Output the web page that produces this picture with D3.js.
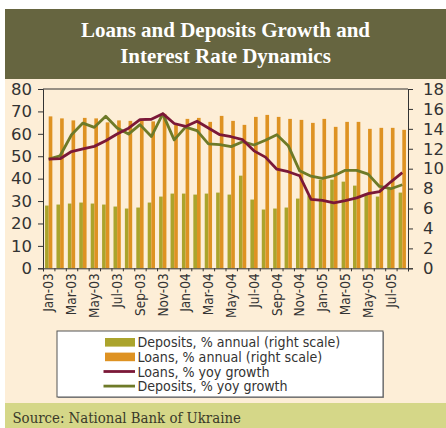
<!DOCTYPE html>
<html>
<head>
<meta charset="utf-8">
<script src="https://cdn.jsdelivr.net/npm/d3@7"></script>
<style>
  body { margin: 0; background: #fff; }
  svg { display: block; }
</style>
</head>
<body>
<div id="chart"></div>
<script>
// months on the x axis
var months = ["Jan-03","Feb-03","Mar-03","Apr-03","May-03","Jun-03","Jul-03","Aug-03","Sep-03","Oct-03","Nov-03","Dec-03",
              "Jan-04","Feb-04","Mar-04","Apr-04","May-04","Jun-04","Jul-04","Aug-04","Sep-04","Oct-04","Nov-04","Dec-04",
              "Jan-05","Feb-05","Mar-05","Apr-05","May-05","Jun-05","Jul-05","Aug-05"];

// bars, right scale
var depositsAnnual = [6.3, 6.4, 6.5, 6.6, 6.5, 6.4, 6.2, 6.0, 6.1, 6.6, 7.2, 7.5,
                      7.5, 7.4, 7.5, 7.6, 7.4, 9.3, 6.9, 5.9, 6.0, 6.1, 7.0, 7.3,
                      8.9, 8.9, 8.7, 8.3, 7.4, 7.2, 8.0, 7.6];
var loansAnnual = [15.25, 15.05, 14.85, 15.1, 15.05, 14.65, 14.85, 14.8, 14.8, 14.75, 15.5, 14.4,
                   15.0, 15.1, 14.7, 15.3, 14.8, 14.4, 15.2, 15.4, 15.2, 15.0, 14.9, 14.6,
                   15.0, 14.2, 14.7, 14.7, 14.0, 14.1, 14.1, 13.9];

// lines, left scale
var loansYoy = [48.7, 48.9, 52.1, 53.3, 54.4, 56.9, 59.9, 62.5, 66.3, 66.5, 69.0, 64.6,
                63.3, 65.6, 62.6, 59.6, 58.7, 57.4, 52.4, 49.6, 44.2, 43.1, 41.3, 30.8,
                30.3, 29.2, 30.2, 31.4, 33.3, 34.2, 38.6, 42.7];
var depositsYoy = [48.7, 50.2, 59.6, 64.8, 62.9, 67.8, 62.6, 59.9, 64.1, 58.8, 68.9, 57.3,
                   63.0, 61.4, 55.5, 55.2, 54.3, 56.5, 55.0, 57.1, 59.6, 54.7, 43.5, 41.1,
                   40.1, 41.3, 43.7, 43.7, 42.0, 36.5, 35.5, 37.3];

var leftTicks = [0, 10, 20, 30, 40, 50, 60, 70, 80];
var rightTicks = [0, 2, 4, 6, 8, 10, 12, 14, 16, 18];

var title = ["Loans and Deposits Growth and", "Interest Rate Dynamics"];
var source = "Source: National Bank of Ukraine";
var legendItems = [
  {label: "Deposits, % annual (right scale)", type: "bar", color: "#ABA42C"},
  {label: "Loans, % annual (right scale)", type: "bar", color: "#DE9222"},
  {label: "Loans, % yoy growth", type: "line", color: "#7B1838"},
  {label: "Deposits, % yoy growth", type: "line", color: "#6E7A28"}
];

var W = 446, H = 428;
var svg = d3.select("#chart").append("svg")
    .attr("width", W)
    .attr("height", H);

// panels
svg.append("rect").attr("x", 5).attr("y", 9).attr("width", W - 5).attr("height", 70).attr("fill", "#666540");
svg.append("rect").attr("x", 5).attr("y", 79).attr("width", W - 5).attr("height", 324).attr("fill", "#FDEED7");
svg.append("rect").attr("x", 5).attr("y", 403).attr("width", W - 5).attr("height", 25).attr("fill", "#D5D788");

svg.selectAll("text.title")
  .data(title)
  .enter().append("text")
  .attr("class", "title")
  .attr("x", 225.5)
  .attr("y", function(d, i) { return 36.5 + i * 26.7; })
  .attr("text-anchor", "middle")
  .attr("fill", "#FFFFFF")
  .style("font-family", "'Liberation Serif', serif")
  .style("font-weight", "bold")
  .style("font-size", "21px")
  .text(function(d) { return d; });

svg.append("text")
  .attr("x", 12.5)
  .attr("y", 423)
  .attr("fill", "#3a3a2a")
  .style("font-family", "'DejaVu Serif Condensed', 'DejaVu Serif', serif")
  .style("font-size", "14.8px")
  .text(source);

// plot area
var plotL = 43, plotR = 408, plotT = 89, plotB = 268.3;

var x = d3.scaleBand()
    .domain(months)
    .range([plotL, plotR])
    .paddingInner(0.36)
    .paddingOuter(0.18);

var xSub = d3.scaleBand()
    .domain(["dep", "loan"])
    .range([0, x.bandwidth()]);

var xIdx = d3.scaleLinear().domain([0, months.length]).range([plotL, plotR]);

var yL = d3.scaleLinear().domain([0, 80]).range([plotB, plotT]);
var yR = d3.scaleLinear().domain([0, 18]).range([plotB, plotT]);

// bars
var g = svg.append("g");
g.selectAll("rect.dep")
  .data(depositsAnnual)
  .enter().append("rect")
  .attr("class", "dep")
  .attr("x", function(d, i) { return x(months[i]) + xSub("dep"); })
  .attr("width", xSub.bandwidth())
  .attr("y", function(d) { return yR(d); })
  .attr("height", function(d) { return plotB - yR(d); })
  .attr("fill", legendItems[0].color);

g.selectAll("rect.loan")
  .data(loansAnnual)
  .enter().append("rect")
  .attr("class", "loan")
  .attr("x", function(d, i) { return x(months[i]) + xSub("loan"); })
  .attr("width", xSub.bandwidth())
  .attr("y", function(d) { return yR(d); })
  .attr("height", function(d) { return plotB - yR(d); })
  .attr("fill", legendItems[1].color);

// lines
var line = d3.line()
    .x(function(d, i) { return x(months[i]) + x.bandwidth() / 2; })
    .y(function(d) { return yL(d); });

svg.append("path")
  .datum(depositsYoy)
  .attr("d", line)
  .attr("fill", "none")
  .attr("stroke", legendItems[3].color)
  .attr("stroke-width", 2.8)
  .attr("stroke-linejoin", "round");

svg.append("path")
  .datum(loansYoy)
  .attr("d", line)
  .attr("fill", "none")
  .attr("stroke", legendItems[2].color)
  .attr("stroke-width", 2.8)
  .attr("stroke-linejoin", "round");

// axes
var axisColor = "#333";
var tickFont = "'DejaVu Sans', sans-serif";

var leftAxis = svg.append("g")
  .attr("transform", "translate(" + plotL + ",0)")
  .call(d3.axisLeft(yL).tickValues(leftTicks).tickSize(5).tickPadding(6));

var rightAxis = svg.append("g")
  .attr("transform", "translate(" + plotR + ",0)")
  .call(d3.axisRight(yR).tickValues(rightTicks).tickSize(5).tickPadding(10));

[leftAxis, rightAxis].forEach(function(a) {
  a.select(".domain").attr("stroke", axisColor);
  a.selectAll(".tick line").attr("stroke", axisColor);
  a.selectAll("text")
    .attr("fill", "#333")
    .style("font-family", tickFont)
    .style("font-size", "16.5px");
});

// top frame line
svg.append("line")
  .attr("x1", plotL).attr("x2", plotR)
  .attr("y1", plotT).attr("y2", plotT)
  .attr("stroke", axisColor);

// x axis: ticks at category edges, labels every second month
var xTicks = svg.append("g")
  .attr("transform", "translate(0," + plotB + ")")
  .call(d3.axisBottom(xIdx).tickValues(d3.range(months.length + 1)).tickFormat("").tickSize(3));
xTicks.select(".domain").attr("stroke", axisColor);
xTicks.selectAll(".tick line").attr("stroke", axisColor);

var xLabels = svg.append("g")
  .attr("transform", "translate(0," + plotB + ")")
  .call(d3.axisBottom(x).tickSize(0).tickFormat(function(d, i) { return i % 2 === 0 ? d : ""; }));
xLabels.select(".domain").remove();
xLabels.selectAll("text")
  .attr("transform", "rotate(-90)")
  .attr("text-anchor", "end")
  .attr("x", -5)
  .attr("y", 0)
  .attr("dy", "0.35em")
  .attr("fill", "#333")
  .style("font-family", "'DejaVu Sans Condensed', sans-serif")
  .style("font-size", "13.5px");

// legend
var lg = svg.append("g");
lg.append("rect")
  .attr("x", 58).attr("y", 332).attr("width", 326).attr("height", 66)
  .attr("fill", "#999");
lg.append("rect")
  .attr("x", 57).attr("y", 331).attr("width", 326).attr("height", 66)
  .attr("fill", "#FFFFFF")
  .attr("stroke", "#555")
  .attr("stroke-width", 1);

var rows = lg.selectAll("g.row")
  .data(legendItems)
  .enter().append("g")
  .attr("class", "row")
  .attr("transform", function(d, i) { return "translate(0," + (342.3 + i * 14.6) + ")"; });

rows.filter(function(d) { return d.type === "bar"; })
  .append("rect")
  .attr("x", 105).attr("y", -4.3).attr("width", 30).attr("height", 8.6)
  .attr("fill", function(d) { return d.color; });

rows.filter(function(d) { return d.type === "line"; })
  .append("line")
  .attr("x1", 103.5).attr("x2", 135).attr("y1", 0).attr("y2", 0)
  .attr("stroke", function(d) { return d.color; })
  .attr("stroke-width", 2.8);

rows.append("text")
  .attr("x", 137.5)
  .attr("y", 0)
  .attr("dy", "0.36em")
  .attr("fill", "#333")
  .style("font-family", "'DejaVu Sans Condensed', sans-serif")
  .style("font-size", "14.1px")
  .text(function(d) { return d.label; });
</script>
</body>
</html>
